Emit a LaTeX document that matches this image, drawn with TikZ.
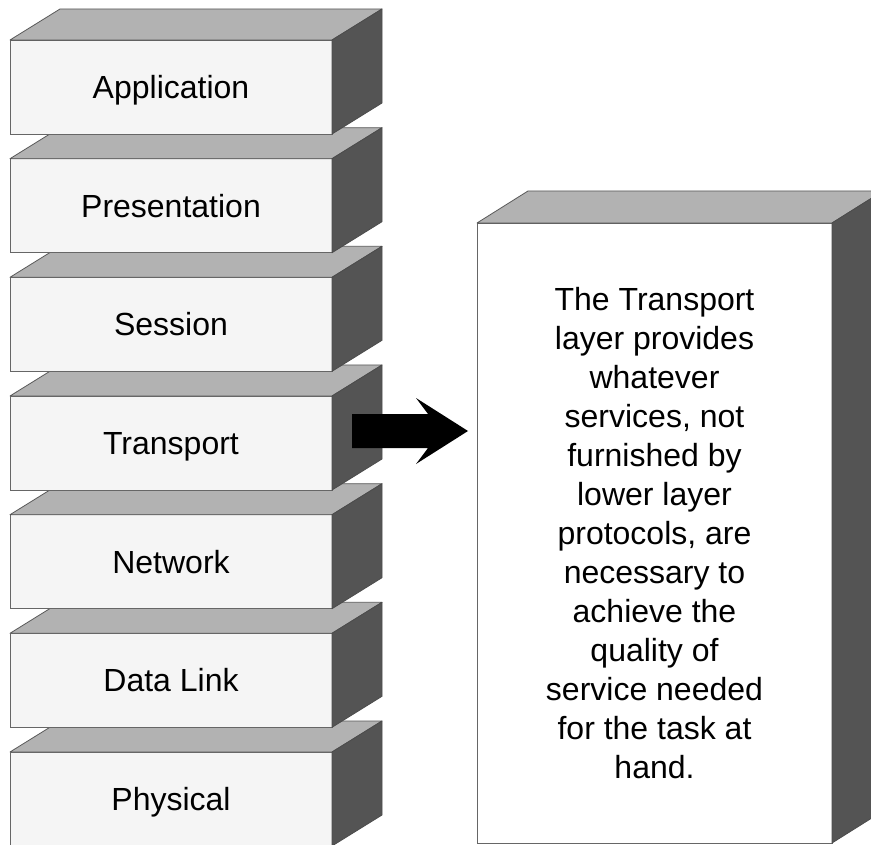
\documentclass[tikz,border=0pt]{standalone}
\usepackage{fontspec}
\setmainfont{Liberation Sans}
\usetikzlibrary{calc}
\tikzset{
  frontface/.style={draw=black!60, line width=0.8pt, fill=black!4, inner sep=0pt, outer sep=0pt,
    font=\fontsize{32}{39}\selectfont},
  layerlabel/.style={text height=23pt, text depth=0pt},
  topface/.style={draw=black!65, line width=0.8pt, fill=black!30, line join=round},
  sideface/.style={draw=black!70, line width=0.8pt, fill=black!67, line join=round},
  blockarrow/.style={fill=black},
}
\newcommand\layerbox[3]{%
  \node[frontface, layerlabel, minimum width=322pt, minimum height=94pt] (#1) at (171,#2) {#3};
  \filldraw[topface] (#1.north west) -- ++(50,-31) -- ++(322,0) -- (#1.north east) -- cycle;
  \filldraw[sideface] (#1.north east) -- ++(50,-31) -- ++(0,94) -- (#1.south east) -- cycle;
}
\begin{document}
\begin{tikzpicture}[x=1pt,y=-1pt]
\useasboundingbox (0,0) rectangle (871,845);
\clip (0,0) rectangle (871,845);
% stack, drawn bottom to top
\layerbox{physical}{799}{Physical}
\layerbox{datalink}{680.3}{Data Link}
\layerbox{network}{561.7}{Network}
\layerbox{transport}{443}{Transport}
\layerbox{session}{324.3}{Session}
\layerbox{presentation}{205.7}{Presentation}
\layerbox{application}{87}{Application}
% description box
\node[frontface, fill=white, minimum width=355pt, minimum height=620pt, align=center] (desc) at (654.5,533)
  {The Transport\\layer provides\\whatever\\services, not\\furnished by\\lower layer\\protocols, are\\necessary to\\achieve the\\quality of\\service needed\\for the task at\\hand.};
\filldraw[topface] (desc.north west) -- ++(51,-32) -- ++(355,0) -- (desc.north east) -- cycle;
\filldraw[sideface] (desc.north east) -- ++(51,-32) -- ++(0,620) -- (desc.south east) -- cycle;
% arrow
\coordinate (as) at ($(transport.east)+(20,-12)$);
\coordinate (at) at ($(as -| desc.west)+(-9,0)$);
\fill[blockarrow] ($(as)+(0,-17)$) -- ($(as)+(76,-17)$) -- ($(as)+(64,-33)$) -- (at)
  -- ($(as)+(64,33)$) -- ($(as)+(76,17)$) -- ($(as)+(0,17)$) -- cycle;
\end{tikzpicture}
\end{document}
